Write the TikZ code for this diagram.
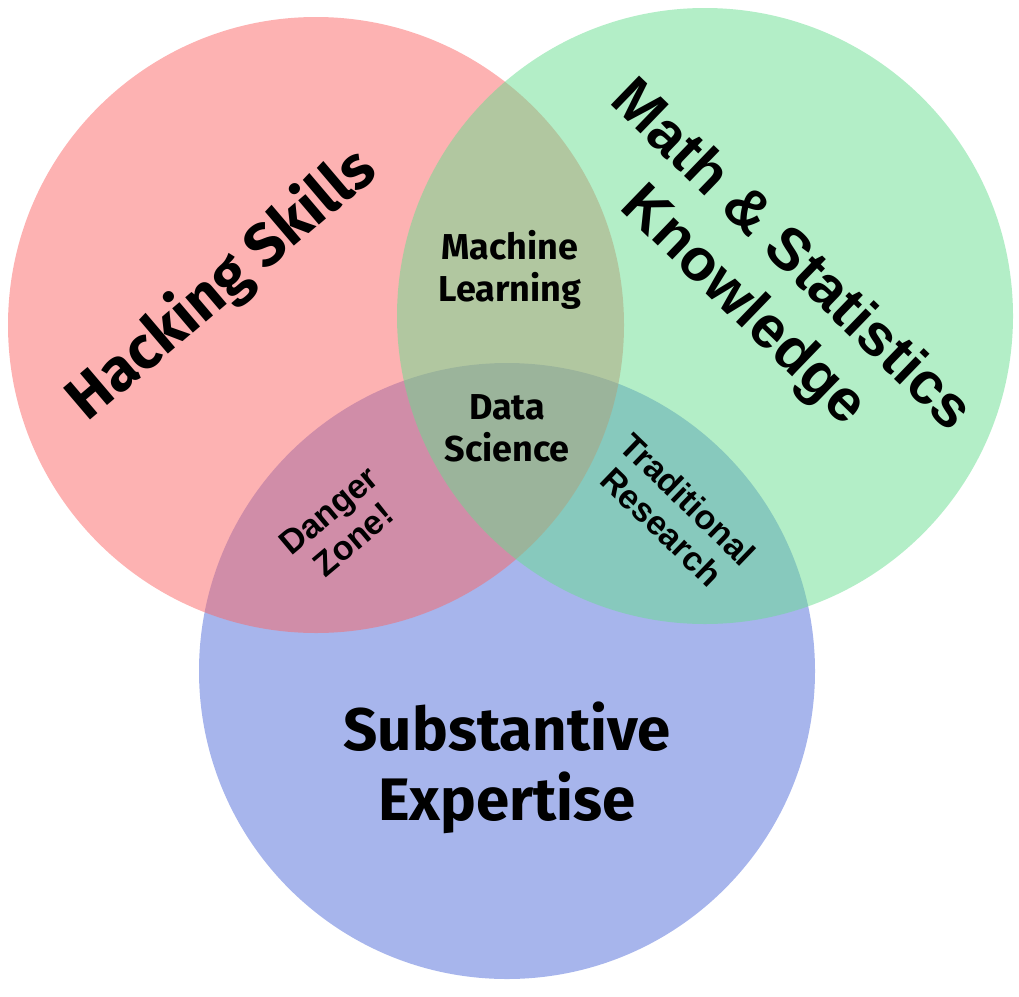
\documentclass[tikz,border=0pt]{standalone}
\usepackage{fontspec}
\newfontfamily\fira{Fira Sans}
\newfontfamily\libsans{Liberation Sans}
\begin{document}
\begin{tikzpicture}[x=1pt,y=-1pt]
  \definecolor{hackred}{RGB}{251,101,101}
  \definecolor{mathgreen}{RGB}{103,221,143}
  \definecolor{subblue}{RGB}{79,107,217}
  \tikzset{
    venn/.style={circle, draw=none, fill opacity=0.5, minimum size=616pt, inner sep=0pt},
    biglabel/.style={font=\fira\bfseries\fontsize{60}{70}\selectfont, align=center, inner sep=0pt},
    midlabel/.style={font=\fira\bfseries\fontsize{36}{42}\selectfont, align=center, inner sep=0pt},
    smalllabel/.style={font=\libsans\bfseries\fontsize{34}{38}\selectfont, align=center, inner sep=0pt},
    mathlabel/.style={font=\libsans\bfseries\fontsize{59}{69}\selectfont, align=center, inner sep=0pt}
  }
  \useasboundingbox (0,0) rectangle (1019,996);
  % the three sets, blue underneath, then red, then green on top
  \node[venn, fill=subblue]   (subst) at (507,671) {};
  \node[venn, fill=hackred]   (hack)  at (316,325) {};
  \node[venn, fill=mathgreen] (math)  at (705,316) {};
  % set labels
  \node[biglabel, rotate=40.4] (hacktext) at (222,285) {Hacking Skills};
  \node[mathlabel, rotate=-44] (mathtext) at (766,282) {Math \& Statistics\\Knowledge};
  \node[biglabel] (substtext) at (507,768) {Substantive\\Expertise};
  % intersection labels
  \node[midlabel] (ml) at (510,270) {Machine\\Learning};
  \node[midlabel] (ds) at (507,428) {Data\\Science};
  \node[smalllabel, rotate=40] (dz) at (341,525) {Danger\\Zone!};
  \node[smalllabel, rotate=-44] (tr) at (675,513) {Traditional\\Research};
\end{tikzpicture}
\end{document}
